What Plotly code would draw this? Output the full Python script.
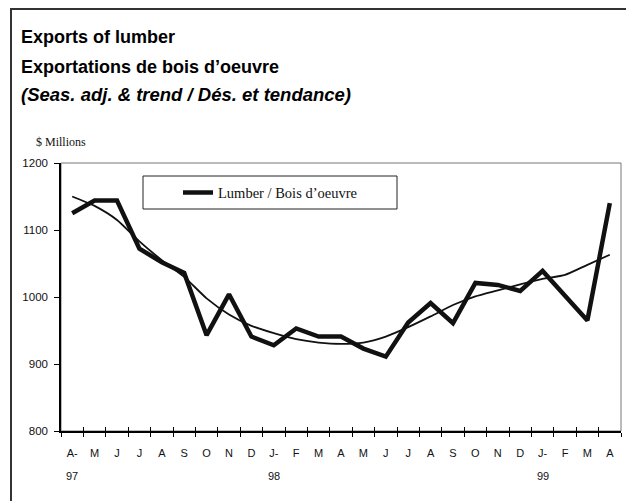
import plotly.graph_objects as go

months = ["A-", "M", "J", "J", "A", "S", "O", "N", "D", "J-", "F", "M", "A",
          "M", "J", "J", "A", "S", "O", "N", "D", "J-", "F", "M", "A"]
years = {0: "97", 9: "98", 21: "99"}
lumber = [1125, 1144, 1144, 1072, 1052, 1036, 943, 1004, 941, 928, 953, 941, 941,
          923, 911, 962, 991, 961, 1021, 1018, 1009, 1039, 1002, 965, 1140]
trend = [1150, 1136, 1115, 1083, 1055, 1030, 998, 974, 957, 946, 937, 932, 930,
         932, 941, 955, 971, 988, 1001, 1010, 1019, 1027, 1033, 1048, 1063]

WIN_W, WIN_H = 634, 501
OFF = 8  # default page body margin
W, H = WIN_W - OFF, WIN_H - OFF
L, R, T, B = 61, 621, 163, 431  # plot area in window pixels

x = list(range(len(months)))
bounds = [i - 0.5 for i in range(len(months) + 1)]

narrow = "Liberation Sans, Arial, sans-serif"
serif = "Liberation Serif, Times New Roman, serif"

fig = go.Figure()
fig.add_trace(go.Scatter(x=x, y=lumber, mode="lines", name="Lumber / Bois d\u2019oeuvre",
                         line=dict(color="#111111", width=4.5), showlegend=True))
fig.add_trace(go.Scatter(x=x, y=trend, mode="lines", name="Trend",
                         line=dict(color="#111111", width=1.8, shape="spline", smoothing=0.6),
                         showlegend=False))


def px2x(px):
    return (px - L) / (R - L)


def py2y(py):
    return (B - py) / (B - T)


fig.update_layout(
    width=W, height=H,
    margin=dict(l=L - OFF, r=WIN_W - R, t=T - OFF, b=WIN_H - B, pad=0),
    paper_bgcolor="white", plot_bgcolor="white",
    xaxis=dict(range=[-0.5, 24.5], tickmode="array", tickvals=bounds,
               ticktext=[""] * len(bounds), ticks="outside", ticklen=4,
               tickcolor="black", tickwidth=1, showticklabels=False,
               showline=True, linecolor="black", linewidth=1.5,
               showgrid=False, zeroline=False, fixedrange=True),
    xaxis2=dict(range=[-0.5, 24.5], overlaying="x", anchor="y", side="bottom",
                tickmode="array", tickvals=x, ticktext=months, ticks="",
                showline=False, showgrid=False, zeroline=False,
                ticklabelstandoff=14,
                tickfont=dict(family=narrow, size=11, color="#111111")),
    xaxis3=dict(range=[-0.5, 24.5], overlaying="x", anchor="y", side="bottom",
                tickmode="array", tickvals=bounds, ticktext=[""] * len(bounds),
                ticks="inside", ticklen=4, tickcolor="black", showticklabels=False,
                showline=False, showgrid=False, zeroline=False),
    yaxis=dict(range=[800, 1200], tickmode="array", tickvals=[800, 900, 1000, 1100, 1200],
               ticks="outside", ticklen=5, tickcolor="black", showline=True,
               linecolor="black", linewidth=1.5, showgrid=False, zeroline=False,
               ticklabelstandoff=4,
               tickfont=dict(family=narrow, size=11.5, color="#111111")),
    showlegend=True,
    legend=dict(x=px2x(178), y=py2y(192.5), xanchor="left", yanchor="middle",
                bgcolor="rgba(0,0,0,0)", borderwidth=0,
                font=dict(family=serif, size=14.5, color="#111111"),
                itemwidth=30),
)

# dummy traces to activate overlay axes
fig.add_trace(go.Scatter(x=[None], y=[None], xaxis="x2", showlegend=False, hoverinfo="skip"))
fig.add_trace(go.Scatter(x=[None], y=[None], xaxis="x3", showlegend=False, hoverinfo="skip"))

# plot frame (top & right grey)
fig.add_shape(type="rect", xref="paper", yref="paper", x0=0, x1=1, y0=0, y1=1,
              line=dict(color="#777777", width=1), layer="below")
# legend box
fig.add_shape(type="rect", xref="paper", yref="paper",
              x0=px2x(143), x1=px2x(397), y0=py2y(209), y1=py2y(176),
              line=dict(color="#222222", width=1), fillcolor="white", layer="below")
# outer border (left and top)
fig.add_shape(type="line", xref="paper", yref="paper",
              x0=px2x(11), x1=px2x(11), y0=py2y(9), y1=py2y(WIN_H + 5),
              line=dict(color="#333333", width=2))
fig.add_shape(type="line", xref="paper", yref="paper",
              x0=px2x(10), x1=px2x(WIN_W + 5), y0=py2y(9), y1=py2y(9),
              line=dict(color="#333333", width=2))

title_font = "Liberation Sans, Arial, sans-serif"
fig.add_annotation(xref="paper", yref="paper", x=px2x(19), y=py2y(37),
                   xanchor="left", yanchor="middle", showarrow=False,
                   text="<b>Exports of lumber</b>",
                   font=dict(family=title_font, size=18, color="black"))
fig.add_annotation(xref="paper", yref="paper", x=px2x(19), y=py2y(67),
                   xanchor="left", yanchor="middle", showarrow=False,
                   text="<b>Exportations de bois d\u2019oeuvre</b>",
                   font=dict(family=title_font, size=18, color="black"))
fig.add_annotation(xref="paper", yref="paper", x=px2x(19), y=py2y(95),
                   xanchor="left", yanchor="middle", showarrow=False,
                   text="<b><i>(Seas. adj. &amp; trend / D\u00e9s. et tendance)</i></b>",
                   font=dict(family=title_font, size=18.5, color="black"))
fig.add_annotation(xref="paper", yref="paper", x=px2x(34), y=py2y(142),
                   xanchor="left", yanchor="middle", showarrow=False,
                   text="$ Millions",
                   font=dict(family=serif, size=12, color="#111111"))
for i, yr in years.items():
    fig.add_annotation(xref="x", yref="paper", x=i, y=py2y(476),
                       xanchor="center", yanchor="middle", showarrow=False, text=yr,
                       font=dict(family=narrow, size=11, color="#111111"))

fig.write_html("out.html")
